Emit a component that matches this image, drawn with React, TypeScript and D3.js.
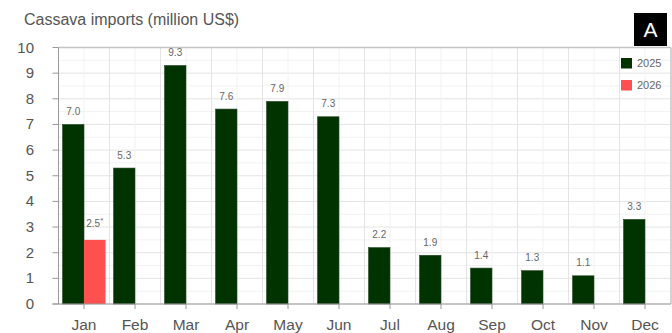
import React from "react";
import * as d3 from "d3";

const months = ["Jan","Feb","Mar","Apr","May","Jun","Jul","Aug","Sep","Oct","Nov","Dec"];
const series = ["2025", "2026"];
const values2025 = [7.0, 5.3, 9.3, 7.6, 7.9, 7.3, 2.2, 1.9, 1.4, 1.3, 1.1, 3.3];
const values2026: (number | null)[] = [2.5, null, null, null, null, null, null, null, null, null, null, null];
const labels2026 = ["2.5", "", "", "", "", "", "", "", "", "", "", ""];
const yTicks = [0, 1, 2, 3, 4, 5, 6, 7, 8, 9, 10];
const colors: Record<string, string> = { "2025": "#003300", "2026": "#ff5050" };

const W = 672, H = 333;
const left = 58.5, right = 670.5, top = 47.5, bottom = 304;

export default function App() {
  const x = d3.scaleBand<string>().domain(months).range([left, right]).padding(0);
  const x1 = d3.scaleBand<string>().domain(series).range([4, x.bandwidth() - 4]).padding(0);
  const y = d3.scaleLinear().domain([0, 10]).range([bottom, top]);
  const minorY = d3.range(0.5, 10, 1);
  const font = "'Liberation Sans', Arial, sans-serif";

  return (
    <svg width={W} height={H} style={{ position: "absolute", left: 0, top: 0, fontFamily: font }}>
      <rect width={W} height={H} fill="#fff" />
      {/* grid */}
      {minorY.map((t) => (
        <line key={"my" + t} x1={left} x2={right} y1={y(t)} y2={y(t)} stroke="#f2f2f2" />
      ))}
      {yTicks.map((t) => (
        <line key={"gy" + t} x1={left} x2={right} y1={y(t)} y2={y(t)} stroke="#e4e4e4" />
      ))}
      {months.map((m) => (
        <line key={"mx" + m} x1={x(m)! + x.bandwidth() / 2} x2={x(m)! + x.bandwidth() / 2} y1={top} y2={bottom} stroke="#f2f2f2" />
      ))}
      {months.map((m, i) => i > 0 && (
        <line key={"gx" + m} x1={x(m)!} x2={x(m)!} y1={top} y2={bottom} stroke="#e4e4e4" />
      ))}
      {/* border */}
      <line x1={left} x2={right + 0.5} y1={top} y2={top} stroke="#c4c4c4" strokeWidth={1.5} />
      <line x1={right + 0.5} x2={right + 0.5} y1={top} y2={bottom} stroke="#c4c4c4" strokeWidth={1.5} />
      {/* bars */}
      {months.map((m, i) => (
        <rect key={"b25" + m} x={x(m)! + x1("2025")!} y={y(values2025[i])} width={x1.bandwidth()} height={bottom - y(values2025[i])} fill={colors["2025"]} stroke="#2a4a2a" strokeWidth={0.6} />
      ))}
      {months.map((m, i) => values2026[i] != null && (
        <rect key={"b26" + m} x={x(m)! + x1("2026")!} y={y(values2026[i]!)} width={x1.bandwidth()} height={bottom - y(values2026[i]!)} fill={colors["2026"]} />
      ))}
      {/* value labels */}
      {months.map((m, i) => (
        <text key={"l25" + m} x={x(m)! + x1("2025")! + x1.bandwidth() / 2} y={y(values2025[i]) - 9.5} textAnchor="middle" fontSize={10} fill="#666">
          {values2025[i].toFixed(1)}
        </text>
      ))}
      {months.map((m, i) => values2026[i] != null && (
        <text key={"l26" + m} x={x(m)! + x1("2026")! + x1.bandwidth() / 2} y={y(values2026[i]!) - 13} textAnchor="middle" fontSize={10} fill="#666">
          {labels2026[i]}<tspan dy={-4} fontSize={8}>*</tspan>
        </text>
      ))}
      {/* axes */}
      <line x1={left} x2={left} y1={top} y2={bottom} stroke="#999" />
      <line x1={left - 6} x2={right + 0.5} y1={bottom} y2={bottom} stroke="#999" />
      {yTicks.map((t) => (
        <g key={"yt" + t}>
          <line x1={left - 6} x2={left} y1={y(t)} y2={y(t)} stroke="#999" />
          <text x={34} y={y(t) + 5} textAnchor="end" fontSize={15} fill="#555">{t}</text>
        </g>
      ))}
      {months.map((m) => (
        <g key={"xt" + m}>
          <line x1={x(m)! + x.bandwidth() / 2} x2={x(m)! + x.bandwidth() / 2} y1={bottom} y2={bottom + 5} stroke="#999" />
          <text x={x(m)! + x.bandwidth() / 2} y={330} textAnchor="middle" fontSize={15.5} fill="#555">{m}</text>
        </g>
      ))}
      {/* title */}
      <text x={24} y={25} fontSize={16} fill="#555">Cassava imports (million US$)</text>
      {/* legend */}
      {series.map((s, i) => (
        <g key={"lg" + s}>
          <rect x={621} y={58 + i * 22} width={11} height={10.5} fill={colors[s]} />
          <text x={637} y={66.5 + i * 22} fontSize={11} fill="#666">{s}</text>
        </g>
      ))}
      {/* badge */}
      <rect x={634} y={13} width={33} height={33} fill="#000" />
      <text x={650.5} y={37} textAnchor="middle" fontSize={21} fill="#fff">A</text>
    </svg>
  );
}
